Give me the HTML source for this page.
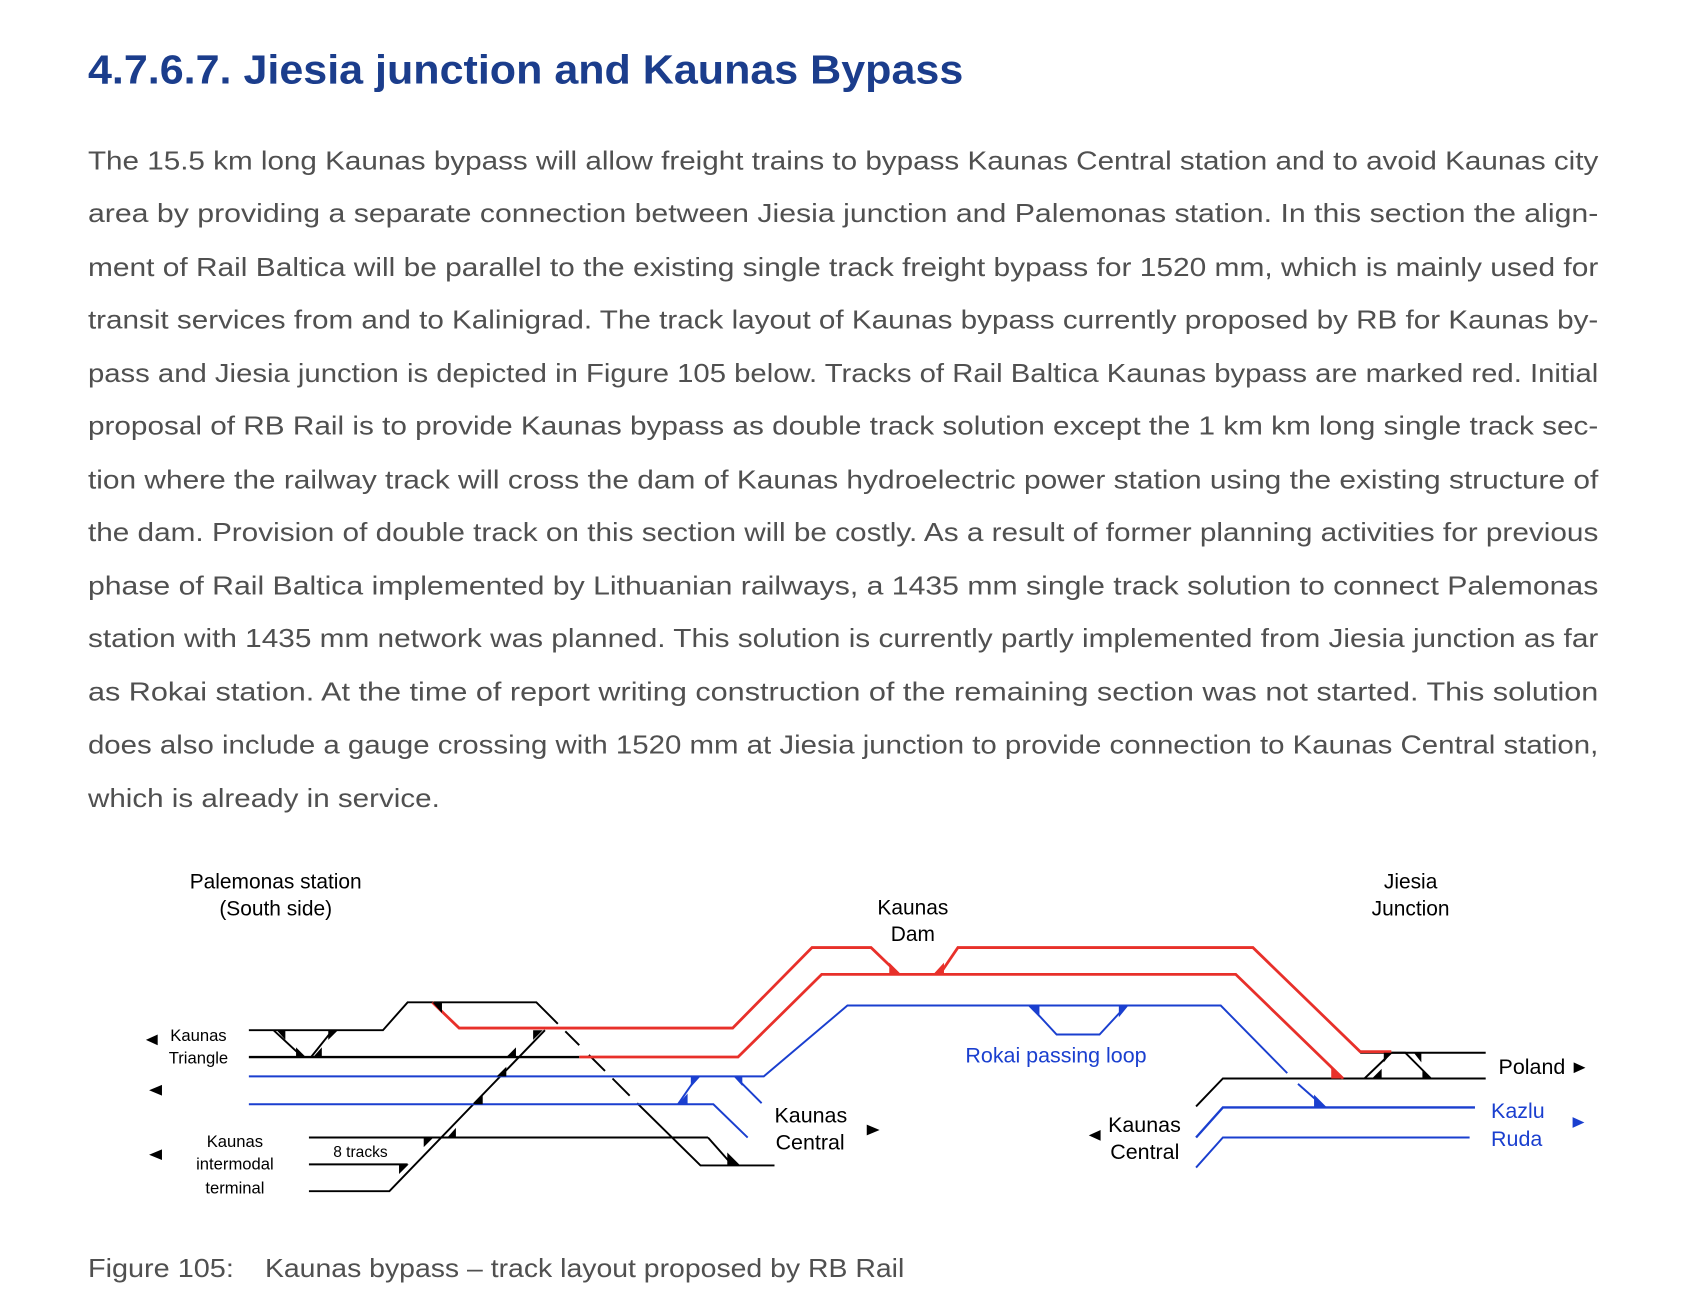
<!DOCTYPE html>
<html><head><meta charset="utf-8"><style>
html,body{margin:0;padding:0;background:#fff;width:1682px;height:1306px;overflow:hidden}
svg{display:block}
.p{font-family:"Liberation Sans",sans-serif;font-size:24px;fill:#505050}
.d{font-family:"Liberation Sans",sans-serif;fill:#000}
</style></head><body>
<svg width="1682" height="1306" viewBox="0 0 1568 1217" preserveAspectRatio="none" xmlns="http://www.w3.org/2000/svg">
<text x="82" y="78" font-family="Liberation Sans, sans-serif" font-weight="bold" font-size="38" fill="#1b3d8c" textLength="816" lengthAdjust="spacingAndGlyphs">4.7.6.7.   Jiesia junction and Kaunas Bypass</text>
<g class="p">
<text x="82" y="158" textLength="1408" lengthAdjust="spacingAndGlyphs">The 15.5 km long Kaunas bypass will allow freight trains to bypass Kaunas Central station and to avoid Kaunas city</text>
<text x="82" y="207" textLength="1408" lengthAdjust="spacingAndGlyphs">area by providing a separate connection between Jiesia junction and Palemonas station. In this section the align-</text>
<text x="82" y="257" textLength="1408" lengthAdjust="spacingAndGlyphs">ment of Rail Baltica will be parallel to the existing single track freight bypass for 1520 mm, which is mainly used for</text>
<text x="82" y="306" textLength="1408" lengthAdjust="spacingAndGlyphs">transit services from and to Kalinigrad. The track layout of Kaunas bypass currently proposed by RB for Kaunas by-</text>
<text x="82" y="356" textLength="1408" lengthAdjust="spacingAndGlyphs">pass and Jiesia junction is depicted in Figure 105 below. Tracks of Rail Baltica Kaunas bypass are marked red. Initial</text>
<text x="82" y="405" textLength="1408" lengthAdjust="spacingAndGlyphs">proposal of RB Rail is to provide Kaunas bypass as double track solution except the 1 km km long single track sec-</text>
<text x="82" y="455" textLength="1408" lengthAdjust="spacingAndGlyphs">tion where the railway track will cross the dam of Kaunas hydroelectric power station using the existing structure of</text>
<text x="82" y="504" textLength="1408" lengthAdjust="spacingAndGlyphs">the dam. Provision of double track on this section will be costly. As a result of former planning activities for previous</text>
<text x="82" y="554" textLength="1408" lengthAdjust="spacingAndGlyphs">phase of Rail Baltica implemented by Lithuanian railways, a 1435 mm single track solution to connect Palemonas</text>
<text x="82" y="603" textLength="1408" lengthAdjust="spacingAndGlyphs">station with 1435 mm network was planned. This solution is currently partly implemented from Jiesia junction as far</text>
<text x="82" y="653" textLength="1408" lengthAdjust="spacingAndGlyphs">as Rokai station. At the time of report writing construction of the remaining section was not started. This solution</text>
<text x="82" y="702" textLength="1408" lengthAdjust="spacingAndGlyphs">does also include a gauge crossing with 1520 mm at Jiesia junction to provide connection to Kaunas Central station,</text>
<text x="82" y="752" textLength="328" lengthAdjust="spacingAndGlyphs">which is already in service.</text>
<text x="82" y="1190" textLength="136" lengthAdjust="spacingAndGlyphs">Figure 105:</text>
<text x="247" y="1190" textLength="596" lengthAdjust="spacingAndGlyphs">Kaunas bypass – track layout proposed by RB Rail</text>
</g>
<g fill="none" stroke-width="2">
<g stroke="#000" stroke-width="1.8">
<polyline points="232,960 357,960 380,934 500,934 520,954"/>
<line x1="527" y1="961" x2="540" y2="974"/>
<line x1="549" y1="983" x2="564" y2="998"/>
<line x1="571" y1="1005" x2="587" y2="1021"/>
<polyline points="594,1028 653,1086 722,1086"/>
<line x1="232" y1="985" x2="540" y2="985" stroke-width="2.2"/>
<line x1="255" y1="960" x2="282" y2="985"/>
<line x1="310" y1="960" x2="290" y2="985"/>
<polyline points="508,960 363,1110 288,1110"/>
<line x1="288" y1="1060" x2="660" y2="1060"/>
<line x1="660" y1="1060" x2="683" y2="1086"/>
<line x1="288" y1="1085" x2="380" y2="1085"/>
<line x1="1268" y1="981" x2="1385" y2="981"/>
<polyline points="1115,1031 1140,1005 1385,1005"/>
<polyline points="1272,1005 1297,981 1310,981 1334,1005"/>
</g>
<g stroke="#e8302a" stroke-width="2.6">
<polyline points="403,934 428,958 683,958 757,883 812,883 838,908"/>
<polyline points="876,908 893,883 1168,883 1268,980 1297,980"/>
<polyline points="540,985 688,985 766,908 1152,908 1252,1005"/>
</g>
<g stroke="#1a3fcf" stroke-width="1.8">
<polyline points="232,1003 712,1003 790,937 1138,937 1200,1000"/>
<polyline points="232,1029 665,1029 697,1060"/>
<line x1="685" y1="1003" x2="710" y2="1028"/>
<line x1="650" y1="1003" x2="632" y2="1029"/>
<polyline points="960,937 985,964 1025,964 1050,937"/>
<line x1="1210" y1="1010" x2="1235" y2="1032"/>
<polyline points="1115,1060 1140,1032 1375,1032" stroke-width="2.2"/>
<polyline points="1115,1088 1140,1060 1370,1060"/>
</g>
</g>
<g fill="#000">
<polygon points="258,960 266,960 266,969"/><polygon points="276,985 285,985 276,976"/>
<polygon points="306,960 315,960 306,969"/><polygon points="292,985 300,985 300,976"/>
<polygon points="403,934 412,934 412,944"/>
<polygon points="497,960 506,960 497,969"/><polygon points="472,985 481,985 481,976"/>
<polygon points="463,1003 472,1003 472,994"/><polygon points="441,1029 450,1029 450,1020"/>
<polygon points="417,1060 425,1060 425,1051"/><polygon points="395,1060 404,1060 395,1069"/>
<polygon points="372,1085 381,1085 372,1094"/>
<polygon points="678,1086 690,1086 678,1074"/>
<polygon points="1279,1005 1288,1005 1288,996"/><polygon points="1290,981 1297,981 1290,990"/>
<polygon points="1318,981 1325,981 1325,990"/><polygon points="1326,1005 1334,1005 1326,996"/>
</g>
<g fill="#e8302a">
<polygon points="829,908 840,908 829,897"/><polygon points="870,908 880,908 880,897"/>
<polygon points="1241,1005 1253,1005 1241,993"/>
</g>
<g fill="#1a3fcf">
<polygon points="958,937 969,937 969,948"/><polygon points="1043,937 1052,937 1043,948"/>
<polygon points="632,1029 641,1029 641,1019"/><polygon points="644,1003 653,1003 644,1013"/>
<polygon points="684,1003 692,1003 692,1012"/>
<polygon points="1225,1032 1237,1032 1225,1020"/>
</g>
<g class="d" font-size="19.5" text-anchor="middle">
<text x="257" y="828">Palemonas station</text><text x="257" y="853">(South side)</text>
<text x="851" y="852">Kaunas</text><text x="851" y="877">Dam</text>
<text x="1315" y="828">Jiesia</text><text x="1315" y="853">Junction</text>
</g>
<g class="d" font-size="15.5" text-anchor="middle">
<text x="185" y="970">Kaunas</text><text x="185" y="991">Triangle</text>
<text x="219" y="1069">Kaunas</text><text x="219" y="1090">intermodal</text><text x="219" y="1112">terminal</text>
<text x="336" y="1078" font-size="14.5">8 tracks</text>
</g>
<g fill="#000">
<polygon points="136,969 147,964 147,974"/>
<polygon points="139,1016 151,1011 151,1021"/>
<polygon points="139,1076 151,1071 151,1081"/>
<polygon points="820,1053 808,1048 808,1058"/>
<polygon points="1015,1058 1026,1053 1026,1063"/>
<polygon points="1478,995 1467,990 1467,1000"/>
</g>
<polygon points="1477,1046 1466,1041 1466,1051" fill="#1a3fcf"/>
<g class="d" font-size="20">
<text x="722" y="1046">Kaunas</text><text x="723" y="1071">Central</text>
<text x="1033" y="1055">Kaunas</text><text x="1035" y="1080">Central</text>
<text x="1397" y="1001">Poland</text>
</g>
<g font-family="Liberation Sans, sans-serif" font-size="20" fill="#1a3fcf">
<text x="900" y="990">Rokai passing loop</text>
<text x="1390" y="1042">Kazlu</text><text x="1390" y="1068">Ruda</text>
</g>
</svg>
</body></html>
